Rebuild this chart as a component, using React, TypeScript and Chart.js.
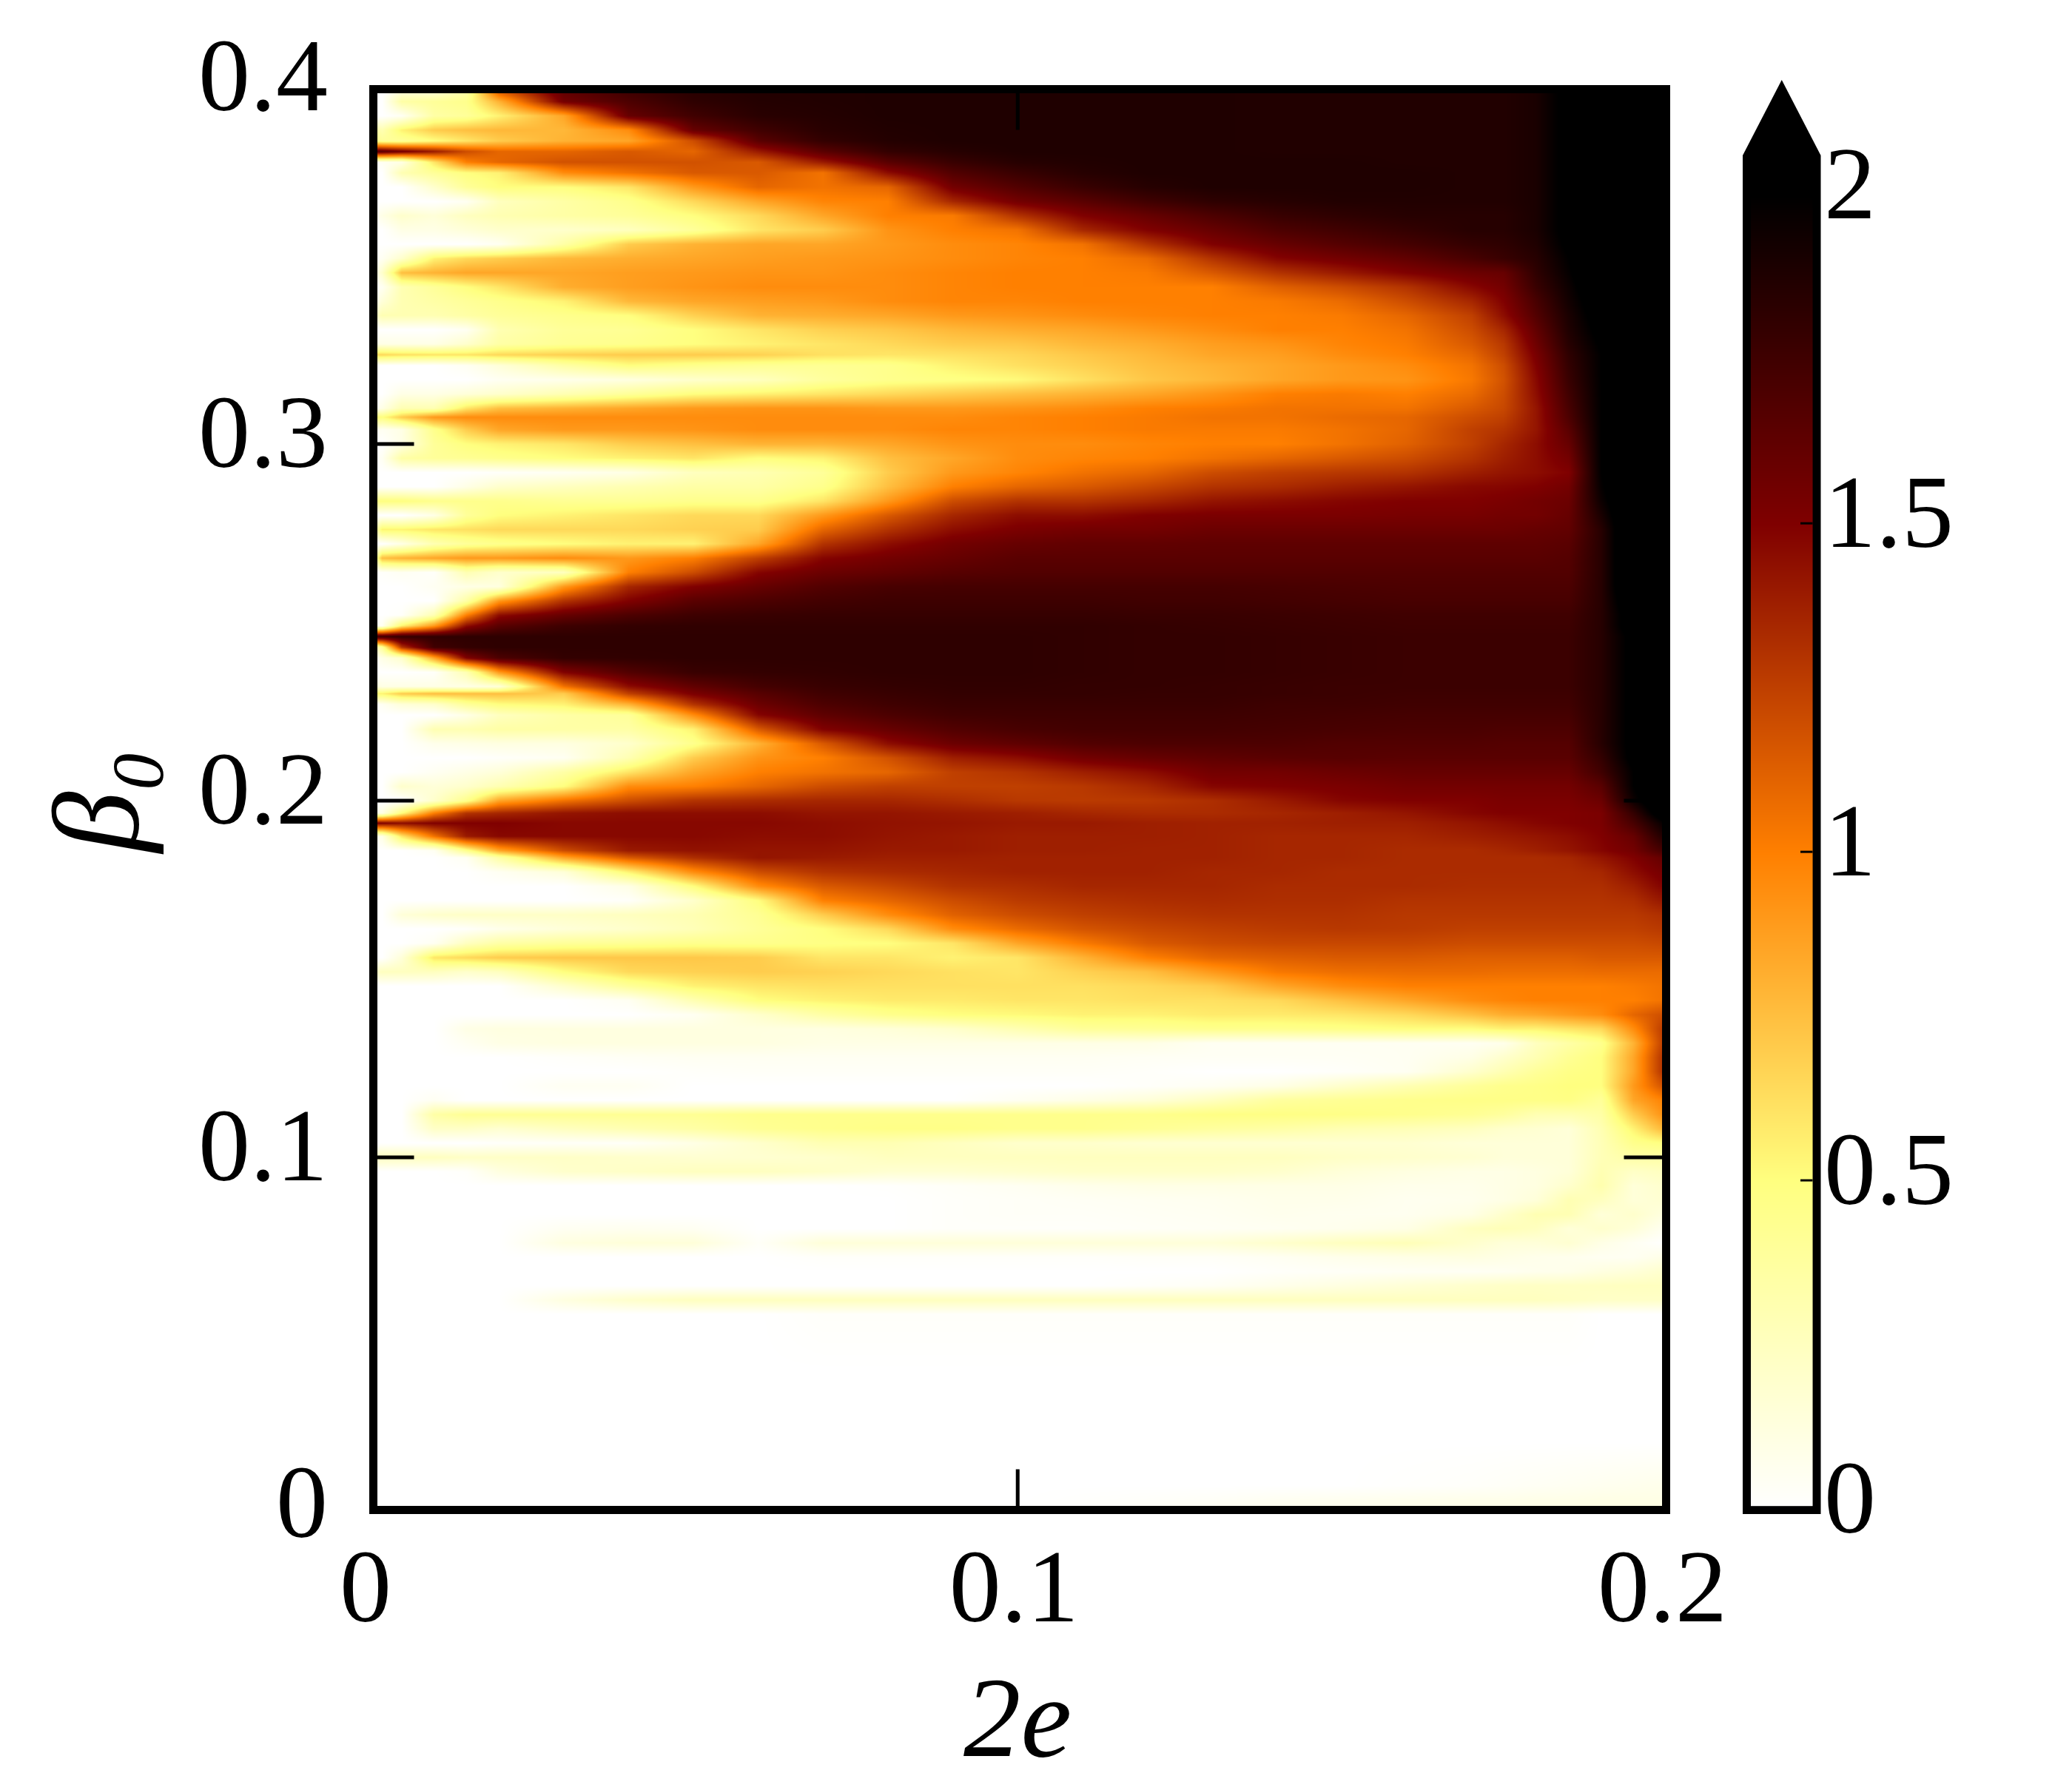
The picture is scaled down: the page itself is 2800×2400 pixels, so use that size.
import React, { useEffect, useRef } from "react";
import { Chart, registerables } from "chart.js";

Chart.register(...registerables);

// ---------- data ----------
const e2Columns = [0, .002, .005, .01, .015, .02, .03, .04, .05, .06, .07, .08, .09, .1, .11, .12, .13, .14, .15, .16, .17, .175, .18, .185, .19, .195, .2];
const beta0Rows = [.4, .396, .392, .388, .385, .382, .379, .376, .372, .368, .364, .36, .356, .352, .348, .344, .34, .336, .332, .328, .325, .322, .318, .314, .31, .3075, .304, .3, .296, .292, .288, .284, .28, .276, .272, .268, .264, .26, .256, .252, .249, .246, .243, .24, .236, .232, .23, .227, .224, .22, .216, .212, .208, .204, .2, .1965, .1937, .19, .186, .184, .18, .176, .172, .168, .164, .16, .156, .152, .148, .144, .14, .136, .132, .128, .124, .12, .116, .112, .108, .104, .1, .096, .092, .088, .084, .08, .076, .072, .068, .064, .06, .056, .04, .02, .008, .004, 0];
const heatValues = [
[0,0,.05,.05,.3,1.3,1.65,1.78,1.85,1.87,1.87,1.88,1.88,1.88,1.88,1.88,1.88,1.87,1.87,1.87,1.87,1.87,1.9,2.05,2.2,2.2,2.2],
[0,0,.35,.4,.45,.8,1.55,1.7,1.82,1.86,1.87,1.88,1.88,1.88,1.88,1.88,1.88,1.87,1.87,1.87,1.87,1.87,1.9,2.05,2.2,2.2,2.2],
[0,0,.05,.35,.4,.55,.85,1.6,1.75,1.84,1.86,1.88,1.88,1.88,1.88,1.88,1.88,1.87,1.87,1.87,1.87,1.87,1.9,2.05,2.2,2.2,2.2],
[.4,.3,.55,.7,.75,.78,.78,.95,1.6,1.75,1.84,1.87,1.88,1.88,1.88,1.88,1.88,1.87,1.87,1.87,1.87,1.87,1.9,2.05,2.2,2.2,2.2],
[.5,.4,.4,.5,.6,.7,.8,.85,1.2,1.65,1.8,1.86,1.88,1.88,1.88,1.88,1.88,1.87,1.87,1.87,1.87,1.87,1.9,2.05,2.2,2.2,2.2],
[1.7,1.65,1.55,1.4,1.2,1.1,1.1,1.15,1.1,1.4,1.65,1.8,1.85,1.88,1.88,1.88,1.88,1.87,1.87,1.87,1.87,1.87,1.9,2.05,2.2,2.2,2.2],
[0,.05,.1,.6,1,1.1,1.18,1.18,1.18,1.15,1.4,1.65,1.78,1.85,1.87,1.88,1.88,1.88,1.88,1.87,1.87,1.87,1.9,2.05,2.2,2.2,2.2],
[0,0,.3,.4,.5,.55,.95,1.05,1.15,1.15,1.05,1.45,1.68,1.78,1.85,1.88,1.88,1.88,1.88,1.88,1.87,1.87,1.9,2.05,2.2,2.2,2.2],
[0,0,0,.2,.4,.5,.5,.6,.9,1.1,1.05,1.1,1.55,1.68,1.78,1.85,1.88,1.88,1.88,1.88,1.87,1.87,1.9,2.05,2.2,2.2,2.2],
[0,0,0,0,.05,.25,.35,.45,.65,.85,.98,1,1.35,1.55,1.65,1.75,1.82,1.85,1.87,1.87,1.87,1.87,1.9,2.05,2.2,2.2,2.2],
[0,.1,.2,.15,.25,.3,.35,.4,.5,.65,.85,1,1.02,1.3,1.5,1.6,1.7,1.78,1.82,1.85,1.85,1.85,1.9,2.05,2.2,2.2,2.2],
[0,0,.1,.1,.15,.2,.2,.25,.4,.6,.7,.92,1,1.05,1.35,1.5,1.6,1.7,1.75,1.8,1.85,1.85,1.9,2.05,2.2,2.2,2.2],
[0,0,0,0,0,.05,.35,.7,.8,.85,.85,.9,.95,.98,1.05,1.3,1.5,1.6,1.67,1.73,1.8,1.82,1.88,2.03,2.2,2.2,2.2],
[0,.05,.2,.55,.65,.7,.78,.82,.85,.88,.9,.92,.95,.98,1,1.08,1.3,1.48,1.55,1.62,1.72,1.78,1.85,2,2.2,2.2,2.2],
[0,.2,.75,.8,.85,.85,.85,.88,.9,.92,.92,.95,.98,1,1,1.02,1.15,1.3,1.4,1.5,1.58,1.6,1.82,1.98,2.2,2.2,2.2],
[0,.05,.3,.4,.5,.6,.82,.88,.92,.95,.95,.95,.98,1,1,1,1,1.12,1.2,1.3,1.47,1.55,1.78,1.95,2.15,2.2,2.2],
[0,.15,.3,.35,.4,.45,.55,.78,.85,.88,.9,.95,.98,.98,1,1,1,1.02,1.08,1.2,1.35,1.5,1.72,1.93,2.1,2.2,2.2],
[.15,.3,.3,.3,.35,.4,.45,.5,.68,.8,.82,.85,.9,.92,.95,.98,1,1,1.02,1.1,1.25,1.45,1.68,1.9,2.08,2.2,2.2],
[0,0,0,0,.05,.3,.4,.42,.5,.6,.68,.72,.78,.82,.85,.9,.95,1,1,1.05,1.2,1.35,1.62,1.88,2.05,2.2,2.2],
[.1,.1,.1,.1,.2,.35,.42,.45,.5,.55,.6,.65,.7,.72,.78,.82,.88,.92,.98,1.02,1.15,1.28,1.57,1.85,2.02,2.2,2.2],
[.65,.65,.62,.6,.6,.65,.68,.7,.7,.68,.62,.6,.62,.66,.72,.78,.85,.88,.95,1,1.1,1.25,1.53,1.82,2,2.2,2.2],
[0,0,0,0,.05,.15,.35,.5,.45,.42,.42,.45,.55,.62,.68,.75,.8,.85,.9,.95,1.05,1.2,1.5,1.8,2,2.2,2.2],
[0,0,0,0,0,.05,.08,.12,.2,.25,.38,.45,.48,.52,.62,.72,.78,.85,.9,.92,1.03,1.18,1.47,1.78,2,2.2,2.2],
[0,0,.1,.1,.15,.2,.3,.4,.5,.55,.6,.65,.7,.75,.8,.85,.92,1,1.02,1,1.08,1.2,1.45,1.75,2,2.2,2.2],
[0,.1,.3,.3,.6,.75,.8,.85,.9,.92,.92,.9,.9,.92,.95,1,1.02,1.05,1.05,1.05,1.15,1.22,1.42,1.72,2,2.2,2.2],
[.6,.5,.7,.9,.95,.95,.95,.95,.95,.95,.95,.95,.95,.98,1,1.02,1.05,1.05,1.08,1.1,1.2,1.25,1.42,1.7,2,2.2,2.2],
[.1,.05,.1,.45,.7,.85,.9,.9,.92,.95,.95,.95,.98,.98,1,1.02,1.02,1.02,1.05,1.1,1.25,1.3,1.42,1.65,2,2.2,2.2],
[0,0,.1,.4,.5,.55,.6,.7,.75,.8,.8,.85,.92,.95,.95,.98,1,1,1.05,1.12,1.25,1.35,1.45,1.6,2,2.2,2.2],
[0,.05,.35,.4,.42,.45,.5,.55,.6,.5,.55,.75,.85,.95,.98,1,1.05,1.1,1.15,1.2,1.3,1.38,1.45,1.55,2,2.2,2.2],
[0,0,0,0,0,.02,.05,.1,.25,.3,.4,.7,.9,.98,1.05,1.1,1.2,1.25,1.28,1.3,1.38,1.42,1.45,1.5,2,2.2,2.2],
[0,0,0,0,.1,.2,.25,.3,.35,.35,.45,.75,1,1.1,1.15,1.22,1.3,1.33,1.38,1.42,1.47,1.48,1.5,1.55,1.98,2.2,2.2],
[.5,.5,.5,.45,.45,.45,.42,.42,.45,.45,.6,.9,1.2,1.3,1.3,1.35,1.42,1.45,1.48,1.5,1.5,1.52,1.55,1.58,1.95,2.2,2.2],
[0,0,0,.1,.4,.5,.55,.6,.65,.65,.9,1.15,1.35,1.45,1.45,1.5,1.52,1.52,1.52,1.53,1.53,1.55,1.55,1.6,1.9,2.2,2.2],
[.1,.55,.55,.6,.62,.65,.65,.65,.68,.7,1.1,1.3,1.45,1.52,1.55,1.55,1.58,1.58,1.58,1.58,1.58,1.58,1.6,1.62,1.85,2.2,2.2],
[0,0,.1,.3,.4,.45,.5,.55,.55,.85,1.3,1.45,1.55,1.6,1.62,1.62,1.63,1.63,1.63,1.63,1.63,1.63,1.63,1.65,1.85,2.2,2.2],
[0,.75,.8,.85,.9,.9,.95,.9,1,1.25,1.48,1.55,1.6,1.65,1.65,1.65,1.65,1.65,1.65,1.65,1.65,1.65,1.65,1.67,1.85,2.2,2.2],
[0,.02,.05,.02,.3,.2,.25,1,1.2,1.48,1.58,1.62,1.66,1.68,1.68,1.68,1.68,1.68,1.68,1.68,1.68,1.68,1.68,1.68,1.85,2.2,2.2],
[0,0,0,.05,.1,.12,.9,1.35,1.5,1.6,1.68,1.72,1.73,1.73,1.73,1.73,1.73,1.72,1.71,1.7,1.7,1.7,1.7,1.7,1.85,2.2,2.2],
[0,0,0,0,.35,.9,1.3,1.5,1.65,1.7,1.74,1.76,1.76,1.76,1.76,1.75,1.75,1.74,1.73,1.72,1.72,1.72,1.72,1.72,1.85,2.15,2.2],
[0,0,.02,.3,1,1.45,1.6,1.7,1.76,1.78,1.79,1.79,1.79,1.79,1.79,1.78,1.78,1.77,1.76,1.75,1.75,1.75,1.75,1.75,1.85,2.1,2.2],
[.05,.05,.55,.9,1.45,1.65,1.76,1.8,1.81,1.81,1.81,1.81,1.81,1.81,1.81,1.8,1.79,1.78,1.77,1.76,1.76,1.76,1.76,1.76,1.85,2.1,2.2],
[1.8,1.75,1.8,1.81,1.82,1.82,1.82,1.82,1.82,1.82,1.82,1.82,1.82,1.82,1.81,1.8,1.8,1.79,1.78,1.77,1.77,1.77,1.77,1.77,1.85,2.05,2.2],
[.1,.4,1.3,1.75,1.8,1.82,1.82,1.82,1.82,1.82,1.82,1.82,1.82,1.82,1.81,1.8,1.8,1.79,1.78,1.77,1.77,1.77,1.77,1.77,1.85,2.05,2.2],
[0,.1,.2,.85,1.5,1.7,1.8,1.81,1.82,1.82,1.82,1.82,1.82,1.82,1.81,1.8,1.8,1.79,1.78,1.77,1.77,1.77,1.77,1.77,1.85,2.05,2.2],
[0,0,0,.02,.3,.9,1.5,1.68,1.78,1.8,1.81,1.82,1.82,1.82,1.81,1.8,1.8,1.79,1.78,1.77,1.77,1.77,1.77,1.77,1.85,2.05,2.2],
[.2,.1,.1,.1,.1,.15,1.05,1.45,1.62,1.73,1.78,1.8,1.81,1.81,1.8,1.8,1.79,1.78,1.77,1.77,1.77,1.77,1.77,1.77,1.85,2.05,2.2],
[.55,.55,.7,.75,.75,.75,.7,1.25,1.52,1.66,1.75,1.78,1.8,1.8,1.8,1.79,1.79,1.78,1.77,1.76,1.76,1.76,1.76,1.76,1.85,2.05,2.2],
[0,.05,.15,.2,.4,.5,.55,.8,1.3,1.58,1.7,1.75,1.78,1.78,1.78,1.78,1.78,1.76,1.76,1.75,1.75,1.75,1.75,1.75,1.85,2.05,2.2],
[0,0,0,0,.1,.25,.35,.4,.95,1.48,1.63,1.7,1.75,1.76,1.76,1.76,1.76,1.75,1.74,1.73,1.73,1.73,1.73,1.73,1.85,2.05,2.2],
[0,0,0,.3,.3,.35,.35,.35,.55,1.15,1.5,1.6,1.68,1.72,1.74,1.74,1.74,1.73,1.72,1.71,1.71,1.7,1.7,1.7,1.85,2.05,2.2],
[0,0,0,.08,.1,.12,.12,.2,.45,.8,1.15,1.45,1.58,1.63,1.68,1.7,1.7,1.7,1.68,1.68,1.68,1.67,1.67,1.67,1.85,2.05,2.2],
[0,0,0,0,0,.02,.05,.3,.7,.92,1,1.18,1.38,1.45,1.55,1.6,1.63,1.65,1.66,1.65,1.65,1.65,1.65,1.65,1.8,2.05,2.2],
[0,0,0,.05,.1,.15,.35,.6,.85,1,1.05,1.1,1.25,1.3,1.38,1.45,1.55,1.55,1.58,1.6,1.6,1.6,1.6,1.6,1.75,2,2.2],
[0,0,.2,.15,.2,.3,.5,.95,1,1.1,1.2,1.25,1.25,1.25,1.28,1.35,1.48,1.5,1.52,1.55,1.55,1.55,1.55,1.55,1.65,2,2.2],
[0,0,0,.2,.45,.85,1.05,1.2,1.3,1.33,1.35,1.35,1.32,1.28,1.27,1.28,1.32,1.4,1.48,1.5,1.5,1.52,1.52,1.52,1.58,1.95,2.2],
[.1,.1,.5,1,1.3,1.35,1.42,1.45,1.45,1.45,1.42,1.42,1.4,1.38,1.35,1.33,1.33,1.35,1.38,1.42,1.48,1.5,1.5,1.5,1.52,1.8,2.15],
[1.55,1.5,1.45,1.5,1.5,1.5,1.47,1.47,1.47,1.47,1.45,1.43,1.42,1.4,1.4,1.38,1.37,1.37,1.38,1.38,1.42,1.45,1.48,1.5,1.52,1.72,2],
[.05,.1,.6,1.05,1.4,1.47,1.47,1.47,1.47,1.45,1.45,1.42,1.4,1.38,1.38,1.38,1.37,1.35,1.35,1.35,1.38,1.4,1.42,1.45,1.5,1.6,1.9],
[0,0,0,.05,.45,.85,1.2,1.4,1.43,1.42,1.42,1.4,1.4,1.38,1.38,1.37,1.37,1.35,1.35,1.33,1.33,1.35,1.38,1.42,1.48,1.55,1.75],
[0,0,0,0,.05,.35,.85,1.15,1.32,1.42,1.4,1.38,1.38,1.37,1.37,1.37,1.37,1.35,1.35,1.33,1.33,1.33,1.33,1.35,1.42,1.5,1.62],
[0,0,0,0,0,.05,.15,.55,.95,1.2,1.3,1.33,1.35,1.37,1.37,1.37,1.35,1.35,1.33,1.33,1.33,1.33,1.33,1.33,1.35,1.45,1.55],
[0,0,0,0,0,0,0,.1,.5,.95,1.15,1.22,1.3,1.32,1.35,1.35,1.35,1.33,1.33,1.33,1.32,1.32,1.32,1.32,1.32,1.38,1.5],
[0,0,0,0,0,0,0,.02,.2,.5,1,1.1,1.2,1.27,1.3,1.32,1.33,1.32,1.32,1.3,1.3,1.3,1.3,1.3,1.3,1.32,1.42],
[0,0,.15,.2,.22,.22,.22,.25,.3,.42,.7,.95,1.12,1.2,1.25,1.28,1.3,1.3,1.3,1.28,1.28,1.28,1.28,1.28,1.28,1.28,1.32],
[0,0,0,0,.02,.08,.15,.2,.28,.4,.5,.65,.95,1.08,1.17,1.22,1.25,1.27,1.28,1.27,1.25,1.25,1.25,1.25,1.25,1.25,1.28],
[0,0,0,.05,.25,.35,.4,.42,.45,.45,.48,.5,.6,.85,1.02,1.15,1.2,1.22,1.22,1.22,1.2,1.2,1.2,1.2,1.2,1.2,1.22],
[0,0,.15,.6,.65,.7,.72,.72,.72,.7,.6,.6,.55,.6,.8,1,1.1,1.13,1.15,1.15,1.13,1.13,1.13,1.13,1.15,1.15,1.15],
[.2,.25,.25,.25,.2,.25,.5,.65,.68,.7,.68,.65,.62,.6,.68,.75,.9,1.03,1.07,1.08,1.08,1.07,1.07,1.07,1.08,1.08,1.08],
[0,0,0,0,0,0,.2,.4,.55,.6,.62,.62,.62,.62,.62,.65,.7,.85,.95,1,1,1,1,1,1,1.02,1.05],
[0,0,0,0,0,0,0,.05,.3,.5,.55,.58,.58,.6,.6,.62,.62,.65,.75,.85,.95,.98,1,1,1,1,1.05],
[0,0,0,0,0,0,0,0,.05,.2,.35,.45,.5,.52,.55,.55,.58,.58,.6,.65,.75,.82,.85,.9,.95,1.1,1.2],
[0,0,0,0,.1,.12,.12,.12,.12,.12,.12,.15,.2,.3,.4,.42,.45,.45,.47,.5,.5,.55,.55,.6,.65,.95,1.3],
[0,0,0,0,.05,.1,.12,.12,.12,.12,.1,.1,.1,.1,.1,.1,.05,.05,.05,.05,.05,.08,.25,.35,.45,.8,1.3],
[0,0,0,0,0,0,.02,.04,.05,.05,.05,.05,.05,.05,.05,.04,.04,.04,.04,.05,.1,.2,.3,.42,.5,.85,1.35],
[0,0,0,0,0,0,0,0,.02,.03,.03,.03,.03,.03,.03,.02,0,0,.02,.05,.2,.3,.4,.47,.5,.85,1.35],
[0,0,0,0,0,0,.05,.05,0,0,0,0,0,0,0,.02,.05,.1,.2,.3,.4,.45,.47,.5,.5,.9,1.2],
[0,0,0,.05,0,0,0,0,0,0,0,0,0,.05,.1,.15,.25,.38,.42,.45,.47,.47,.47,.48,.4,.85,1],
[0,0,0,.35,.42,.42,.42,.42,.42,.45,.45,.45,.45,.45,.45,.45,.48,.48,.47,.45,.42,.38,.3,.3,.35,.7,.95],
[0,0,0,.22,.22,.18,.25,.3,.35,.42,.45,.47,.47,.45,.45,.42,.38,.35,.3,.28,.25,.2,.18,.15,.3,.55,.8],
[0,0,0,0,0,.02,.03,.03,.1,.2,.3,.3,.25,.2,.2,.18,.18,.18,.18,.18,.15,.15,.15,.15,.28,.45,.5],
[.25,.25,.25,.25,.22,.22,.22,.2,.18,.18,.2,.25,.25,.25,.25,.25,.25,.25,.22,.2,.18,.15,.15,.15,.28,.35,.35],
[0,0,0,0,.02,.12,.2,.22,.25,.25,.22,.18,.18,.2,.22,.22,.22,.2,.15,.12,.1,.1,.12,.15,.3,.22,.25],
[0,0,0,0,0,0,0,0,0,0,0,.01,.03,.05,.08,.1,.1,.1,.1,.08,.08,.1,.12,.2,.32,.15,.2],
[0,0,0,0,0,0,0,0,0,0,0,0,.02,.03,.04,.05,.06,.08,.08,.06,.07,.1,.15,.3,.25,.15,.18],
[0,0,0,0,0,0,0,0,0,0,0,0,.02,.03,.03,.04,.05,.07,.06,.06,.1,.2,.3,.3,.15,.2,.12],
[0,0,0,0,0,0,.05,.06,.05,0,0,0,.02,.02,.02,.03,.04,.05,.07,.1,.25,.28,.25,.15,.2,.15,.05],
[0,0,0,0,0,0,.12,.15,.15,.03,.15,.15,.15,.15,.15,.15,.15,.2,.25,.28,.2,.15,.15,.18,.1,.05,0],
[0,0,0,0,0,0,0,0,0,0,.02,.02,.02,.02,.02,.03,.03,.05,.08,.1,.12,.1,.08,.07,.05,.05,.1],
[0,0,0,0,0,0,0,0,0,0,0,0,0,0,0,0,0,.02,.03,.04,.04,.05,.07,.08,.12,.15,.2],
[0,0,0,0,0,0,0,0,0,0,0,0,0,0,0,.02,.04,.08,.12,.16,.2,.22,.23,.23,.24,.25,.25],
[0,0,0,0,0,0,.12,.2,.25,.25,.25,.25,.25,.25,.25,.25,.25,.25,.25,.25,.25,.25,.25,.24,.22,.22,.22],
[0,0,0,0,0,0,0,0,0,0,.02,.02,.02,.02,.02,.02,.02,.02,.02,.02,.02,.02,.02,.02,0,0,0],
[0,0,0,0,0,0,0,0,0,0,0,0,0,0,0,0,0,0,0,0,0,0,0,0,0,0,0],
[0,0,0,0,0,0,0,0,0,0,0,0,0,0,0,0,0,0,0,0,0,0,0,0,0,0,0],
[0,0,0,0,0,0,0,0,0,0,0,0,0,0,0,0,0,0,0,.01,.02,.03,.04,.05,.06,.07,.08],
[0,0,0,0,0,0,0,0,0,0,0,0,0,0,.01,.02,.03,.05,.06,.07,.08,.08,.09,.09,.1,.1,.1],
[0,0,0,0,0,0,0,0,0,0,0,0,0,.01,.03,.05,.07,.08,.08,.09,.1,.1,.1,.11,.11,.12,.12],
];
const xTickValues = [0, 0.1, 0.2];
const xTickLabels = ["0", "0.1", "0.2"];
const yTickValues = [0, 0.1, 0.2, 0.3, 0.4];
const yTickLabels = ["0", "0.1", "0.2", "0.3", "0.4"];
const barTickValues = [0, 0.5, 1, 1.5, 2];
const barTickLabels = ["0", "0.5", "1", "1.5", "2"];
const barLevels = [0, 0.5, 1, 1.5, 2, 2.06];

// ---------- helpers ----------
const FONT = "'Liberation Serif'";
const clamp01 = (v: number) => (v < 0 ? 0 : v > 1 ? 1 : v);
function afmhotR(v: number): [number, number, number] {
  return [clamp01(2 - v) * 255, clamp01(1.5 - v) * 255, clamp01(1 - v) * 255];
}
const ascCols = e2Columns;
const ascRows = [...beta0Rows].reverse();
const ascVals = [...heatValues].reverse();
function bracket(arr: number[], v: number): [number, number] {
  let lo = 0, hi = arr.length - 1;
  if (v <= arr[0]) return [0, 0];
  if (v >= arr[hi]) return [hi, 0];
  while (hi - lo > 1) {
    const m = (lo + hi) >> 1;
    if (arr[m] <= v) lo = m; else hi = m;
  }
  return [lo, (v - arr[lo]) / (arr[lo + 1] - arr[lo])];
}

const heatmapPlugin = {
  id: "heatmap",
  beforeDatasetsDraw(chart: any) {
    const { ctx, chartArea: a, scales } = chart;
    const x0 = Math.round(a.left), y0 = Math.round(a.top);
    const w = Math.round(a.right) - x0, h = Math.round(a.bottom) - y0;
    const img = ctx.createImageData(w, h);
    const xb = [] as [number, number][];
    for (let i = 0; i < w; i++) xb.push(bracket(ascCols, scales.x.getValueForPixel(x0 + i + 0.5)));
    let p = 0;
    for (let j = 0; j < h; j++) {
      const [r, fr] = bracket(ascRows, scales.y.getValueForPixel(y0 + j + 0.5));
      const A = ascVals[r], B = ascVals[Math.min(r + 1, ascVals.length - 1)];
      for (let i = 0; i < w; i++) {
        const [c, fc] = xb[i];
        const c1 = Math.min(c + 1, ascCols.length - 1);
        const lo = A[c] + (A[c1] - A[c]) * fc;
        const hi = B[c] + (B[c1] - B[c]) * fc;
        const [R, G, Bl] = afmhotR(lo + (hi - lo) * fr);
        img.data[p++] = R; img.data[p++] = G; img.data[p++] = Bl; img.data[p++] = 255;
      }
    }
    ctx.putImageData(img, x0, y0);
  },
  afterDraw(chart: any) {
    const { ctx, chartArea: a, scales } = chart;
    ctx.save();
    ctx.strokeStyle = "#000";
    ctx.lineWidth = 5;
    const fl = a.left + 5.5, fr = a.right, ft = a.top + 2.5, fb = a.bottom - 5.5;
    xTickValues.slice(1, -1).forEach((v) => {
      const px = scales.x.getPixelForValue(v);
      ctx.beginPath();
      ctx.moveTo(px, ft); ctx.lineTo(px, ft + 55);
      ctx.moveTo(px, fb); ctx.lineTo(px, fb - 55);
      ctx.stroke();
    });
    yTickValues.slice(1, -1).forEach((v) => {
      const py = scales.y.getPixelForValue(v);
      ctx.beginPath();
      ctx.moveTo(fl, py); ctx.lineTo(fl + 55, py);
      ctx.moveTo(fr, py); ctx.lineTo(fr - 57, py);
      ctx.stroke();
    });
    ctx.lineWidth = 11;
    ctx.lineJoin = "miter";
    ctx.strokeRect(fl, ft, fr - fl, fb - ft);
    ctx.restore();
  },
};

const colorbarPlugin = {
  id: "colorbar",
  beforeDatasetsDraw(chart: any) {
    const { ctx, chartArea: a, scales } = chart;
    ctx.save();
    const cx = (a.left + a.right) / 2, half = (a.right - a.left) / 2 + 5.5;
    ctx.fillStyle = "#000";
    ctx.beginPath();
    ctx.moveTo(cx - half, a.bottom + 7);
    ctx.lineTo(cx - half, a.top);
    ctx.lineTo(cx, a.top - 102);
    ctx.lineTo(cx + half, a.top);
    ctx.lineTo(cx + half, a.bottom + 7);
    ctx.closePath();
    ctx.fill();
    for (let y = Math.round(a.top); y < a.bottom - 4; y++) {
      const [R, G, B] = afmhotR(scales.y.getValueForPixel(y + 0.5));
      ctx.fillStyle = `rgb(${R | 0},${G | 0},${B | 0})`;
      ctx.fillRect(a.left + 5.5, y, a.right - a.left - 11, 1.2);
    }
    ctx.strokeStyle = "#000";
    ctx.lineWidth = 3;
    barTickValues.forEach((v) => {
      const py = scales.y.getPixelForValue(v);
      ctx.beginPath();
      ctx.moveTo(a.right - 5.5, py); ctx.lineTo(a.right - 22, py);
      ctx.stroke();
    });
    ctx.restore();
  },
};

const tickFont = { family: FONT, size: 140, style: "normal" as const };

export default function App() {
  const mainRef = useRef<HTMLCanvasElement>(null);
  const barRef = useRef<HTMLCanvasElement>(null);

  useEffect(() => {
    const main = new Chart(mainRef.current!, {
      type: "scatter",
      data: {
        datasets: [{
          label: "heat",
          pointRadius: 0,
          data: beta0Rows.flatMap((b, r) => e2Columns.map((e, c) => ({ x: e, y: b, v: heatValues[r][c] }))),
        }],
      },
      plugins: [heatmapPlugin],
      options: {
        responsive: false,
        animation: false,
        events: [],
        layout: { padding: { left: 0, top: 118, right: 2800 - 2251.5, bottom: 0 } },
        plugins: { legend: { display: false }, tooltip: { enabled: false } },
        scales: {
          x: {
            type: "linear", min: 0, max: 0.2,
            grid: { display: false, drawTicks: false }, border: { display: false },
            afterBuildTicks: (s: any) => { s.ticks = xTickValues.map((value) => ({ value })); },
            afterFit: (s: any) => { s.height = 2400 - 2046; s.paddingLeft = 0; s.paddingRight = 0; },
            ticks: {
              autoSkip: false, maxRotation: 0, padding: 24, labelOffset: -5, color: "#000", font: tickFont,
              callback: (v: any) => xTickLabels[xTickValues.indexOf(v)] ?? "",
            },
            title: {
              display: true, text: "2e", color: "#000",
              font: { family: FONT, size: 155, style: "italic", lineHeight: 0.88 },
              padding: { top: 0, bottom: 0 },
            },
          },
          y: {
            type: "linear", min: 0, max: 0.4,
            grid: { display: false, drawTicks: false }, border: { display: false },
            afterBuildTicks: (s: any) => { s.ticks = yTickValues.map((value) => ({ value })); },
            afterFit: (s: any) => { s.width = 499; s.paddingTop = 0; s.paddingBottom = 0; },
            ticks: {
              autoSkip: false, padding: 56, labelOffset: -6, color: "#000", font: tickFont,
              callback: (v: any) => yTickLabels[yTickValues.indexOf(v)] ?? "",
            },
            title: {
              display: true, text: "β₀", color: "#000",
              font: { family: FONT, size: 165, style: "italic", lineHeight: 1 },
              padding: { top: 60, bottom: 0 },
            },
          },
        },
      },
    } as any);

    const bar = new Chart(barRef.current!, {
      type: "scatter",
      data: { datasets: [{ label: "colorbar", pointRadius: 0, data: barLevels.map((v) => ({ x: 0, y: v })) }] },
      plugins: [colorbarPlugin],
      options: {
        responsive: false,
        animation: false,
        events: [],
        layout: { padding: { left: 2360.5, top: 210, right: 0, bottom: 2400 - 2039 } },
        plugins: { legend: { display: false }, tooltip: { enabled: false } },
        scales: {
          x: { type: "linear", display: false, min: 0, max: 1 },
          y: {
            type: "linear", position: "right", min: 0, max: 2.06,
            grid: { display: false, drawTicks: false }, border: { display: false },
            afterBuildTicks: (s: any) => { s.ticks = barTickValues.map((value) => ({ value })); },
            afterFit: (s: any) => { s.width = 2800 - 2452 - 3; s.paddingTop = 0; s.paddingBottom = 0; },
            ticks: {
              autoSkip: false, padding: 10, labelOffset: -5, color: "#000", font: tickFont,
              callback: (v: any) => barTickLabels[barTickValues.indexOf(v)] ?? "",
            },
          },
        },
      },
    } as any);

    return () => { main.destroy(); bar.destroy(); };
  }, []);

  const cv: React.CSSProperties = { position: "absolute", left: 0, top: 0, display: "block" };
  return (
    <div style={{ position: "absolute", left: 0, top: 0, width: 2800, height: 2400, background: "#fff", overflow: "hidden" }}>
      <canvas ref={mainRef} width={2800} height={2400} style={cv} />
      <canvas ref={barRef} width={2800} height={2400} style={cv} />
    </div>
  );
}
